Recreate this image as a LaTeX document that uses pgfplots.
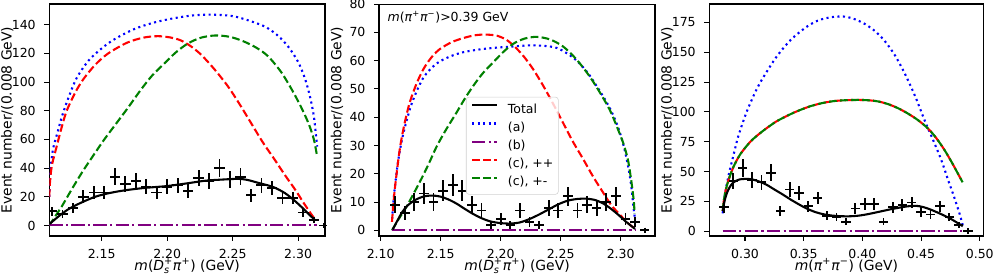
\documentclass[border=0pt]{standalone}
\usepackage{amsmath}
\usepackage{fontspec}
\setmainfont{DejaVu Sans}
\usepackage{pgfplots}
\pgfplotsset{compat=1.18}
\definecolor{mplpurple}{HTML}{800080}
\definecolor{mplgreen}{HTML}{008000}
\pgfplotsset{
 mpl/.style={scale only axis, height=167pt, anchor=south west,
   axis line style={line width=0.8pt}, tick align=outside, major tick length=3.5pt,
   every tick/.style={black, line width=0.8pt},
   xtick pos=left, ytick pos=left,
   tick label style={font=\fontsize{9}{10}\selectfont},
   label style={font=\fontsize{10}{12}\selectfont},
   /pgf/number format/assume math mode=true,
   scaled ticks=false,
   xticklabel style={anchor=base, yshift=-13pt, /pgf/number format/.cd, fixed, fixed zerofill, precision=2},
   yticklabel style={anchor=east, inner xsep=0pt, xshift=-6.1pt, /pgf/number format/.cd, fixed, precision=0},
   ylabel={Event number/(0.008 GeV)},
   ylabel style={at={([xshift=-27.1pt]rel axis cs:0,0.5)}, anchor=base},
   xlabel style={at={([yshift=-24.5pt]rel axis cs:0.5,0)}, anchor=base},
 },
 tot/.style={black, line width=1.5pt, smooth},
 pa/.style={blue, line width=1.5pt, dash pattern=on 1.5pt off 2.475pt, smooth},
 pb/.style={mplpurple, line width=1.5pt, dash pattern=on 9.6pt off 2.4pt on 1.5pt off 2.4pt},
 pcpp/.style={red, line width=1.5pt, dash pattern=on 5.55pt off 2.4pt, smooth},
 pcpm/.style={mplgreen, line width=1.5pt, dash pattern=on 5.55pt off 2.4pt, smooth},
 dat/.style={black, only marks, mark=+, mark size=2pt, mark options={line width=1.3pt},
   error bars/x dir=both, error bars/x explicit, error bars/y dir=both, error bars/y explicit,
   error bars/error bar style={line width=1.3pt, black}, error bars/error mark=none},
}
\begin{document}
\begin{tikzpicture}
%%%%%%%%%%%%%%%% Panel 1
\begin{axis}[mpl, at={(35.5pt,30.24pt)}, width=198.5pt,
  xmin=2.11, xmax=2.3205, ymin=-7.35, ymax=154.4,
  xtick={2.15,2.20,2.25,2.30}, ytick={0,20,40,60,80,100,120,140},
  xlabel={\textit{m}(\textit{D}$^{\text{+}}_{\textit{s}}$\textit{π}$^{\text{+}}$) (GeV)}]
\addplot[pa] table {
2.1100 20
2.1105 32
2.1115 44
2.113 54
2.116 64
2.120 77
2.125 90
2.131 103
2.140 115
2.150 123.5
2.160 130
2.175 137
2.190 141.5
2.205 144.5
2.220 146.5
2.235 147
2.250 146
2.262 143
2.275 138.5
2.285 132
2.293 124
2.300 114
2.305 103
2.309 90
2.312 76
2.3145 55
};
\addplot[pcpp] table {
2.1100 20
2.1105 30
2.112 42
2.1156 55
2.119 67
2.1233 80
2.130 93
2.136 102
2.145 112
2.155 120
2.1695 127.5
2.182 131
2.193 132
2.203 131
2.2105 129
2.218 125
2.226 119
2.236 109
2.2464 97
2.255 85
2.264 71.5
2.273 58
2.282 46
2.290 35
2.2977 25
2.304 16
2.308 10.5
2.3115 6
2.313 4
};
\addplot[pcpm] table {
2.110 0
2.115 7
2.120 14
2.127 25
2.135 37
2.143 48
2.152 60
2.161 71
2.170 82
2.1786 93
2.188 104
2.199 114
2.207 121
2.216 127
2.226 131
2.237 132.5
2.248 131.5
2.258 128.5
2.268 124
2.277 118
2.287 107
2.295 95
2.302 83
2.308 71
2.312 60
2.3145 48
};
\addplot[pb] table {
2.110 0.3
2.3145 0.3
};
\addplot[tot] table {
2.110 1
2.114 4
2.118 7
2.124 11
2.130 14
2.137 17
2.145 20
2.153 22
2.161 23.5
2.170 24.8
2.183 26.2
2.199 27.4
2.214 29.2
2.229 31.2
2.242 32
2.254 32.5
2.261 31.8
2.270 29.6
2.281 26.8
2.290 22.5
2.297 17.5
2.303 12.5
2.308 8
2.3125 4
};
\addplot[dat] table[x=x, y=y, x error=ex, y error=ey] {
x y ex ey
2.112 10 0.004 3.16
2.120 8 0.004 2.83
2.128 12 0.004 3.46
2.136 20 0.004 4.47
2.144 23 0.004 4.80
2.152 23 0.004 4.80
2.160 34 0.004 5.83
2.168 29 0.004 5.39
2.176 31 0.004 5.57
2.184 27 0.004 5.20
2.192 23 0.004 4.80
2.200 27 0.004 5.20
2.208 28 0.004 5.29
2.216 24 0.004 4.90
2.224 33 0.004 5.74
2.232 31 0.004 5.57
2.240 40 0.004 6.32
2.248 32 0.004 5.66
2.256 34 0.004 5.83
2.264 21 0.004 4.58
2.272 28 0.004 5.29
2.280 26 0.004 5.10
2.288 19 0.004 4.36
2.296 19 0.004 4.36
2.304 9 0.004 3.00
2.312 4 0.004 2.00
2.320 0 0.004 0
};
\end{axis}
%%%%%%%%%%%%%%%% Panel 2
\begin{axis}[mpl, at={(272.9pt,30.24pt)}, width=198.7pt,
  xmin=2.0986, xmax=2.3286, ymin=-2, ymax=80,
  xtick={2.10,2.15,2.20,2.25,2.30}, ytick={0,10,20,30,40,50,60,70,80},
  xlabel={\textit{m}(\textit{D}$^{\text{+}}_{\textit{s}}$\textit{π}$^{\text{+}}$) (GeV)},
  legend image code/.code={\draw[#1] (0pt,3pt) -- (18pt,3pt);},
  legend style={at={(rel axis cs:0.315,0.60)}, anchor=north west,
    draw=black!18, rounded corners=2pt, fill=white, fill opacity=0.8, text opacity=1,
    font=\fontsize{9}{10.8}\selectfont, inner xsep=3.5pt, inner ysep=2.5pt, column sep=7pt,
    nodes={inner xsep=0pt, inner ysep=2pt, text height=7pt, text depth=2pt},
    cells={anchor=west}},
  legend cell align=left]
\addplot[pa, forget plot] table {
2.1095 4
2.1105 10
2.112 16
2.1147 25
2.119 34.5
2.126 45
2.1356 54
2.1467 59
2.158 61.5
2.169 63
2.183 64
2.1967 64.6
2.21 65
2.2244 65.4
2.2367 65.2
2.2467 64.5
2.2555 62.5
2.2633 60
2.272 56
2.28 51
2.288 45.5
2.294 40.5
2.299 35
2.303 29
2.3065 22
2.309 15
2.311 7
2.312 4
};
\addplot[pcpp, forget plot] table {
2.1094 3
2.1105 9
2.112 15.6
2.116 29
2.120 38
2.1244 45.5
2.130 52
2.1356 57
2.142 61
2.149 64
2.159 66.5
2.169 68
2.179 69
2.188 69.2
2.197 68.8
2.205 67.3
2.212 64.8
2.219 61.6
2.227 57
2.2356 51
2.244 44.5
2.252 38
2.260 31.5
2.269 25
2.277 19
2.2856 13.2
2.292 9
2.2994 5.5
2.305 3
2.309 1.5
2.312 0.7
};
\addplot[pcpm, forget plot] table {
2.1094 0
2.115 4
2.1217 8.5
2.1328 17.3
2.140 23.5
2.1467 29.7
2.155 36
2.163 41.5
2.170 46.5
2.177 51
2.185 55.5
2.194 59.5
2.202 63
2.2106 66
2.220 67.8
2.230 68.4
2.241 67.5
2.252 65
2.263 60.5
2.274 54.5
2.283 48.5
2.291 42.5
2.297 36.5
2.302 31
2.306 25
2.309 17
2.311 10
2.3115 6
};
\addplot[pb, forget plot] table {
2.1094 0.2
2.312 0.2
};
\addplot[tot, forget plot] table {
2.110 0.3
2.114 3.5
2.118 6.5
2.123 9
2.129 10.8
2.136 12
2.1425 12.3
2.149 12
2.156 11
2.163 9.5
2.170 7.6
2.177 5.8
2.184 4.3
2.191 3.2
2.199 2.6
2.2078 2.4
2.216 2.8
2.224 4
2.232 5.6
2.240 7.4
2.248 9.2
2.256 10.5
2.264 11.1
2.2711 11.2
2.278 10.8
2.285 9.6
2.292 7.6
2.298 5.5
2.304 3.2
2.309 1.5
2.312 0.5
};
\addplot[forget plot, dat] table[x=x, y=y, x error=ex, y error=ey] {
x y ex ey
2.112 9 0.004 3.00
2.120 6 0.004 2.45
2.128 10 0.004 3.16
2.136 13 0.004 3.61
2.144 10 0.004 3.16
2.152 14 0.004 3.74
2.160 16 0.004 4.00
2.168 14 0.004 3.74
2.176 9 0.004 3.00
2.184 7 0.004 2.65
2.192 2 0.004 1.41
2.200 4 0.004 2.00
2.208 2 0.004 1.41
2.216 7 0.004 2.65
2.224 3 0.004 1.73
2.232 2 0.004 1.41
2.240 8 0.004 2.83
2.248 7 0.004 2.65
2.256 12 0.004 3.46
2.264 7 0.004 2.65
2.272 9 0.004 3.00
2.280 8 0.004 2.83
2.288 10 0.004 3.16
2.296 12 0.004 3.46
2.304 4 0.004 2.00
2.312 3 0.004 1.73
2.320 0 0.004 0
};
\addlegendimage{black, line width=1.5pt}
\addlegendentry{Total}
\addlegendimage{blue, line width=1.5pt, dash pattern=on 1.5pt off 2.475pt}
\addlegendentry{(a)}
\addlegendimage{mplpurple, line width=1.5pt, dash pattern=on 9.6pt off 2.4pt on 1.5pt off 2.4pt}
\addlegendentry{(b)}
\addlegendimage{red, line width=1.5pt, dash pattern=on 5.55pt off 2.4pt}
\addlegendentry{(c), ++}
\addlegendimage{mplgreen, line width=1.5pt, dash pattern=on 5.55pt off 2.4pt}
\addlegendentry{(c), +-}
\node[anchor=west, font=\fontsize{9}{10}\selectfont, inner sep=0pt] at (rel axis cs:0.03,0.943)
  {\textit{m}(\textit{π}$^{\text{+}}$\textit{π}$^{\text{−}}$)>0.39 GeV};
\end{axis}
%%%%%%%%%%%%%%%% Panel 3
\begin{axis}[mpl, at={(510.7pt,30.24pt)}, width=197.6pt,
  xmin=0.2696, xmax=0.5034, ymin=-4, ymax=190.4,
  xtick={0.30,0.35,0.40,0.45,0.50}, ytick={0,25,50,75,100,125,150,175},
  xlabel={\textit{m}(\textit{π}$^{\text{+}}$\textit{π}$^{\text{−}}$) (GeV)}]
\addplot[pa] table {
0.2810 15
0.2825 28
0.2846 40
0.2870 51
0.2900 63
0.2944 80
0.3014 100
0.3080 115
0.3126 124
0.3200 136
0.3267 146
0.3340 155
0.3407 162
0.3480 168
0.3548 172.8
0.3620 176.5
0.3688 178.5
0.3770 179.8
0.3857 179.8
0.3940 177.5
0.4025 173.5
0.4110 167.5
0.4194 159
0.4280 147
0.4362 132
0.4450 113
0.4530 93
0.4600 77
0.4671 60
0.4730 43
0.4784 28
0.4830 14
0.4855 5
};
\addplot[red, line width=1.5pt, dash pattern=on 5.55pt off 2.4pt, dash phase=4pt, smooth] table {
0.2810 17
0.2820 26
0.2835 34
0.2860 43
0.2902 54
0.2950 63
0.2986 68
0.3050 75.5
0.3126 82
0.3200 87.5
0.3267 92
0.3340 95.8
0.3407 99
0.3480 102
0.3548 104.5
0.3620 106.5
0.3688 108
0.3770 109.2
0.3857 109.8
0.3930 110
0.3997 110
0.4070 109.6
0.4138 108.7
0.4220 106.5
0.4306 103
0.4390 98.5
0.4475 93
0.4560 86
0.4630 78
0.4700 68
0.4760 58
0.4810 49
0.4854 41
};
\addplot[pcpm] table {
0.2810 17
0.2820 26
0.2835 34
0.2860 43
0.2902 54
0.2950 63
0.2986 68
0.3050 75.5
0.3126 82
0.3200 87.5
0.3267 92
0.3340 95.8
0.3407 99
0.3480 102
0.3548 104.5
0.3620 106.5
0.3688 108
0.3770 109.2
0.3857 109.8
0.3930 110
0.3997 110
0.4070 109.6
0.4138 108.7
0.4220 106.5
0.4306 103
0.4390 98.5
0.4475 93
0.4560 86
0.4630 78
0.4700 68
0.4760 58
0.4810 49
0.4854 41
};
\addplot[pb] table {
0.2810 0.5
0.4855 0.5
};
\addplot[tot] table {
0.2812 17
0.2825 25
0.2846 32
0.2870 37
0.2902 41
0.2950 43.3
0.2990 43.8
0.3030 43.8
0.3070 43.2
0.3125 41.5
0.3183 39
0.3250 35
0.3323 30.7
0.3390 26.5
0.3463 22.3
0.3530 18.8
0.3604 15.9
0.3670 14.2
0.3744 13.1
0.3815 12.6
0.3885 12.5
0.3955 12.9
0.4025 13.9
0.4095 15.3
0.4166 16.8
0.4236 18.3
0.4306 19.6
0.4380 20.8
0.4457 21.3
0.4520 20.2
0.4580 18.2
0.4640 15.7
0.4700 13.0
0.4754 10.3
0.4805 7.3
0.4855 4.2
};
\addplot[dat] table[x=x, y=y, x error=ex, y error=ey] {
x y ex ey
0.282 20 0.004 4.47
0.290 42 0.004 6.48
0.298 53 0.004 7.28
0.306 43 0.004 6.56
0.314 41 0.004 6.40
0.322 49 0.004 7.00
0.330 17 0.004 4.12
0.338 35 0.004 5.92
0.346 32 0.004 5.66
0.354 21 0.004 4.58
0.362 28 0.004 5.29
0.370 13 0.004 3.61
0.378 12 0.004 3.46
0.386 8 0.004 2.83
0.394 19 0.004 4.36
0.402 23 0.004 4.80
0.410 23 0.004 4.80
0.418 8 0.004 2.83
0.426 20 0.004 4.47
0.434 22 0.004 4.69
0.442 24 0.004 4.90
0.450 16 0.004 4.00
0.458 14 0.004 3.74
0.466 21 0.004 4.58
0.474 12 0.004 3.46
0.482 5 0.004 2.24
0.490 0 0.004 0
};
\end{axis}
\pgfresetboundingbox
\path[use as bounding box] (0,0) rectangle (717.12pt,200.16pt);
\end{tikzpicture}
\end{document}
